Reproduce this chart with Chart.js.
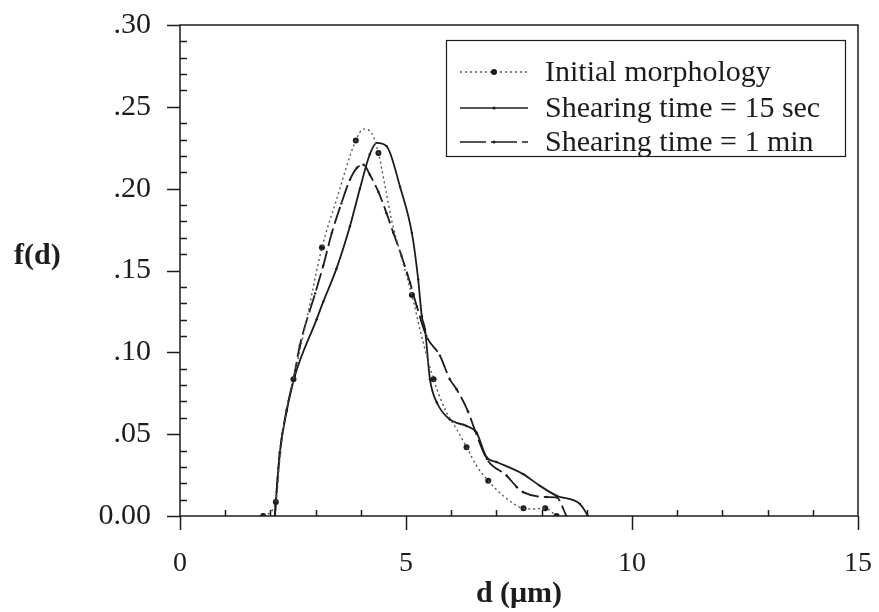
<!DOCTYPE html>
<html>
<head>
<meta charset="utf-8">
<script src="https://cdn.jsdelivr.net/npm/chart.js@4.4.1/dist/chart.umd.min.js"></script>
<style>
  html, body { margin: 0; padding: 0; background: #fff; }
  canvas { display: block; }
</style>
</head>
<body>
<canvas id="chart" width="879" height="612"></canvas>
<script>
// size distribution f(d) vs d (um)

// initial morphology: big dot markers
const initMarkD = [1.84, 2.12, 2.51, 3.14, 3.89, 4.39, 5.13, 5.61, 6.34, 6.82, 7.60, 8.08, 8.33];
const initMarkF = [0, 0.0085, 0.0835, 0.164, 0.2295, 0.2218, 0.135, 0.0835, 0.042, 0.0215, 0.0047, 0.0047, 0];
// initial morphology: traced dotted curve
const initD = [1.84, 2.12, 2.22, 2.36, 2.51, 2.80, 3.14, 3.46, 3.89, 4.06, 4.24, 4.39, 4.54, 4.68, 4.87, 5.13, 5.38, 5.61, 5.90, 6.12, 6.34, 6.56, 6.82, 7.15, 7.60, 7.85, 8.08, 8.33];
const initF = [0, 0.0085, 0.038, 0.066, 0.0835, 0.12, 0.164, 0.193, 0.2295, 0.2364, 0.234, 0.2218, 0.201, 0.181, 0.161, 0.135, 0.106, 0.0835, 0.063, 0.053, 0.042, 0.0307, 0.0215, 0.0124, 0.0047, 0.0043, 0.0047, 0];

// shearing time = 15 sec (solid)
const sec15D = [2.10, 2.12, 2.21, 2.36, 2.54, 3.02, 3.17, 3.46, 3.76, 3.98, 4.20, 4.35, 4.57, 4.87, 5.13, 5.27, 5.35, 5.42, 5.53, 5.68, 5.97, 6.34, 6.56, 6.78, 7.00, 7.59, 7.96, 8.33, 8.85, 9.03];
const sec15F = [0, 0.0085, 0.039, 0.064, 0.0855, 0.120, 0.131, 0.151, 0.177, 0.200, 0.221, 0.228, 0.226, 0.201, 0.173, 0.1445, 0.122, 0.114, 0.0835, 0.0695, 0.059, 0.055, 0.051, 0.036, 0.033, 0.0256, 0.0185, 0.0124, 0.0073, 0];

// shearing time = 1 min (dash-dot)
const min1D = [2.10, 2.12, 2.21, 2.36, 2.51, 2.65, 2.99, 3.17, 3.36, 3.57, 3.76, 3.91, 4.06, 4.20, 4.39, 4.57, 4.72, 4.90, 5.09, 5.24, 5.45, 5.75, 5.97, 6.12, 6.37, 6.53, 6.79, 7.23, 7.45, 7.59, 8.11, 8.33, 8.55];
const min1F = [0, 0.0085, 0.039, 0.065, 0.0835, 0.104, 0.136, 0.153, 0.173, 0.191, 0.2055, 0.2126, 0.2146, 0.2085, 0.198, 0.185, 0.173, 0.159, 0.1425, 0.128, 0.110, 0.098, 0.0835, 0.0774, 0.064, 0.052, 0.0348, 0.0246, 0.0177, 0.0146, 0.0116, 0.0114, 0];

const legendLabels = ['Initial morphology', 'Shearing time = 15 sec', 'Shearing time = 1 min'];
const xTicks = [0, 5, 10, 15];
const yTicks = [0, 0.05, 0.10, 0.15, 0.20, 0.25, 0.30];

const SERIF = "'Liberation Serif', 'DejaVu Serif', serif";
const INK = '#1c1c1c';

const toPoints = (xs, ys) => xs.map((x, i) => ({ x, y: ys[i] }));

// box, inside minor ticks, outside major ticks, y title
const framePlugin = {
  id: 'frame',
  beforeDraw(chart) {
    const { ctx, width, height } = chart;
    ctx.save();
    ctx.fillStyle = '#fff';
    ctx.fillRect(0, 0, width, height);
    ctx.restore();
  },
  afterDraw(chart) {
    const { ctx, chartArea: a, scales } = chart;
    const xs = scales.x, ys = scales.y;
    ctx.save();
    ctx.strokeStyle = INK;
    ctx.lineWidth = 1.5;
    ctx.strokeRect(a.left, a.top, a.right - a.left, a.bottom - a.top);

    ctx.beginPath();
    for (let v = 0; v <= 15; v++) {
      const px = Math.round(xs.getPixelForValue(v)) + 0.5;
      if (v % 5 === 0) {
        ctx.moveTo(px, a.bottom);
        ctx.lineTo(px, a.bottom + 14);
      } else {
        ctx.moveTo(px, a.bottom);
        ctx.lineTo(px, a.bottom - 6);
      }
    }
    for (let i = 0; i <= 30; i++) {
      const py = Math.round(ys.getPixelForValue(i / 100)) + 0.5;
      if (i % 5 === 0) {
        ctx.moveTo(a.left - 13, py);
        ctx.lineTo(a.left, py);
      } else {
        ctx.moveTo(a.left, py);
        ctx.lineTo(a.left + 7, py);
      }
    }
    ctx.stroke();

    ctx.fillStyle = INK;
    ctx.font = 'bold 30px ' + SERIF;
    ctx.textAlign = 'left';
    ctx.textBaseline = 'middle';
    ctx.fillText('f(d)', 14, 256);
    ctx.restore();
  }
};

// boxed legend in the top right of the plot
const legendPlugin = {
  id: 'boxLegend',
  afterDraw(chart) {
    const { ctx } = chart;
    const left = 446.5, top = 40.5, right = 845.5, bottom = 156.5;
    const rows = [72, 108, 142];
    ctx.save();
    ctx.strokeStyle = INK;
    ctx.lineWidth = 1.2;
    ctx.strokeRect(left, top, right - left, bottom - top);

    const styles = [
      { dash: [2, 3], width: 1.3, color: '#555', r: 3 },
      { dash: [], width: 1.6, color: INK, r: 1.5 },
      { dash: [26, 5], width: 1.6, color: INK, r: 1.5 }
    ];
    rows.forEach((y, i) => {
      const s = styles[i];
      ctx.beginPath();
      ctx.setLineDash(s.dash);
      ctx.strokeStyle = s.color;
      ctx.lineWidth = s.width;
      ctx.moveTo(460, y);
      ctx.lineTo(528, y);
      ctx.stroke();
      ctx.setLineDash([]);
      ctx.fillStyle = INK;
      ctx.beginPath();
      ctx.arc(494, y, s.r, 0, Math.PI * 2);
      ctx.fill();

      ctx.font = '30px ' + SERIF;
      ctx.textAlign = 'left';
      ctx.textBaseline = 'middle';
      ctx.fillText(legendLabels[i], 545, y + 1);
    });
    ctx.restore();
  }
};

new Chart(document.getElementById('chart'), {
  type: 'line',
  data: {
    datasets: [
      {
        label: legendLabels[0],
        data: toPoints(initD, initF),
        borderColor: '#555',
        borderWidth: 1.4,
        borderDash: [2, 3],
        cubicInterpolationMode: 'monotone',
        pointRadius: 0,
        fill: false
      },
      {
        label: legendLabels[0] + ' (points)',
        data: toPoints(initMarkD, initMarkF),
        showLine: false,
        pointRadius: 3,
        pointBackgroundColor: INK,
        pointBorderWidth: 0
      },
      {
        label: legendLabels[1],
        data: toPoints(sec15D, sec15F),
        borderColor: INK,
        borderWidth: 1.8,
        cubicInterpolationMode: 'monotone',
        pointRadius: 1.2,
        pointBackgroundColor: INK,
        pointBorderWidth: 0,
        fill: false
      },
      {
        label: legendLabels[2],
        data: toPoints(min1D, min1F),
        borderColor: INK,
        borderWidth: 1.8,
        borderDash: [18, 5],
        cubicInterpolationMode: 'monotone',
        pointRadius: 1.2,
        pointBackgroundColor: INK,
        pointBorderWidth: 0,
        fill: false
      }
    ]
  },
  options: {
    responsive: false,
    devicePixelRatio: 1,
    animation: false,
    layout: { padding: { top: 25, right: 21, left: 0, bottom: 0 } },
    plugins: {
      legend: { display: false },
      tooltip: { enabled: false }
    },
    scales: {
      x: {
        type: 'linear',
        min: 0,
        max: 15,
        afterBuildTicks: (s) => { s.ticks = xTicks.map(v => ({ value: v })); },
        afterFit: (s) => { s.height = 96; s.paddingLeft = 0; s.paddingRight = 0; },
        grid: { display: false, drawTicks: false },
        border: { display: false },
        ticks: {
          font: { family: SERIF, size: 28 },
          color: INK,
          padding: 31,
          maxRotation: 0
        },
        title: {
          display: true,
          text: 'd (\u03bcm)',
          font: { family: SERIF, size: 30, weight: 'bold' },
          color: INK,
          padding: { top: 0, bottom: 0 }
        }
      },
      y: {
        min: 0,
        max: 0.3,
        afterBuildTicks: (s) => { s.ticks = yTicks.map(v => ({ value: v })); },
        afterFit: (s) => { s.width = 180; s.paddingTop = 0; s.paddingBottom = 0; },
        grid: { display: false, drawTicks: false },
        border: { display: false },
        ticks: {
          font: { family: SERIF, size: 30 },
          color: INK,
          padding: 29,
          callback: (v) => v === 0 ? '0.00' : v.toFixed(2).slice(1)
        }
      }
    }
  },
  plugins: [framePlugin, legendPlugin]
});
</script>
</body>
</html>
